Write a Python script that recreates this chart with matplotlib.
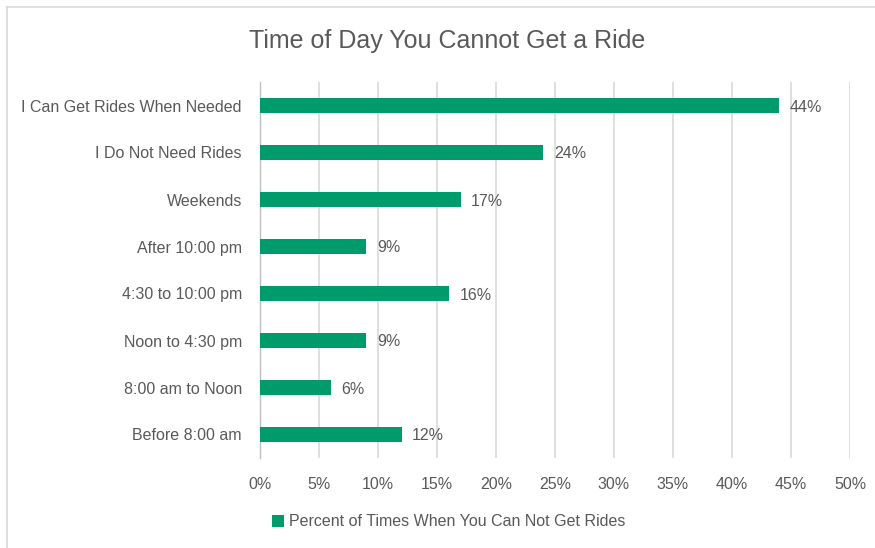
import numpy as np
import matplotlib.pyplot as plt
from matplotlib.lines import Line2D

categories = ["I Can Get Rides When Needed", "I Do Not Need Rides", "Weekends",
              "After 10:00 pm", "4:30 to 10:00 pm", "Noon to 4:30 pm",
              "8:00 am to Noon", "Before 8:00 am"]
values = [44, 24, 17, 9, 16, 9, 6, 12]
xticks = [0, 5, 10, 15, 20, 25, 30, 35, 40, 45, 50]
series_name = "Percent of Times When You Can Not Get Rides"
title = "Time of Day You Cannot Get a Ride"

GREEN = "#009B6B"
TEXT = "#595959"
GRID = "#D9D9D9"

plt.rcParams["font.family"] = ["Liberation Sans", "DejaVu Sans"]

fig = plt.figure(figsize=(8.75, 5.48), dpi=100)
ax = fig.add_axes([260 / 875, 1 - 458 / 548, 590 / 875, 376 / 548])

y = np.arange(len(categories))
ax.barh(y, values, height=0.34, color=GREEN, zorder=3, label=series_name)
for yi, v in zip(y, values):
    ax.text(v + 0.9, yi, f"{v}%", va="center_baseline", ha="left", fontsize=11.5, color=TEXT)

ax.set_xlim(0, 50)
ax.set_ylim(len(categories) - 0.5, -0.5)
ax.set_xticks(xticks)
ax.set_xticklabels([f"{t}%" for t in xticks])
ax.set_yticks(y)
ax.set_yticklabels(categories)
ax.tick_params(axis="both", length=0, labelsize=11.5, labelcolor=TEXT)
ax.tick_params(axis="y", pad=13)
ax.tick_params(axis="x", pad=14)
ax.grid(axis="x", color=GRID, linewidth=1.2, zorder=0)
for s in ["top", "right", "bottom"]:
    ax.spines[s].set_visible(False)
ax.spines["left"].set_color("#BFBFBF")
ax.spines["left"].set_linewidth(1)

fig.text(447 / 875, 1 - 41 / 548, title, ha="center", va="center", fontsize=18, color=TEXT)

fig.legend(loc="center", bbox_to_anchor=(449 / 875, 1 - 522 / 548), frameon=False,
           fontsize=11.5, labelcolor=TEXT, handlelength=0.75, handleheight=0.75, handletextpad=0.3)

# chart frame: only top and left edges are visible in the crop
fig.lines.append(Line2D([7 / 875, 1], [1 - 7 / 548, 1 - 7 / 548], transform=fig.transFigure,
                        color="#D9D9D9", linewidth=1.2))
fig.lines.append(Line2D([7 / 875, 7 / 875], [0, 1 - 7 / 548], transform=fig.transFigure,
                        color="#D9D9D9", linewidth=1.2))

fig.savefig("out.png", dpi=100)
